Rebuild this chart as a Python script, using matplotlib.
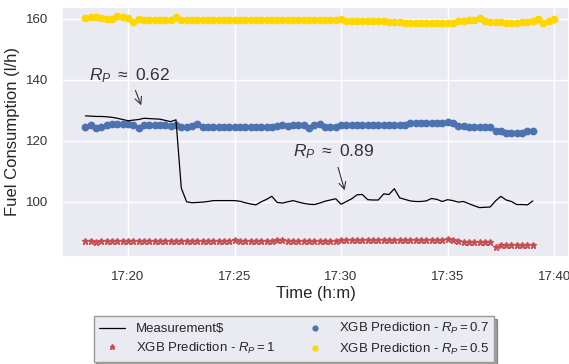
import numpy as np
import pandas as pd
import matplotlib
matplotlib.use("Agg")
import matplotlib.pyplot as plt
import matplotlib.dates as mdates
import seaborn as sns

# ---------------- data ----------------
start_time = "2021-01-01 17:18:00"
sample_period = "15s"

measurement = [
    128.2, 128.1, 128.0, 128.0, 127.9, 127.7, 127.4, 127.0, 126.6, 126.8,
    127.0, 127.4, 127.3, 127.2, 127.1, 126.7, 126.3, 126.9, 104.5, 100.0,
    99.7, 99.8, 99.9, 100.1, 100.4, 100.4, 100.4, 100.4, 100.4, 100.2,
    99.7, 99.3, 99.0, 100.0, 100.8, 101.8, 99.8, 99.6, 100.0, 100.4,
    99.9, 99.5, 99.2, 99.1, 99.6, 100.2, 100.6, 101.0, 99.2, 100.1,
    101.0, 102.3, 102.4, 100.7, 100.6, 100.6, 102.6, 102.4, 104.3, 101.3,
    100.8, 100.3, 100.1, 100.1, 100.3, 101.1, 100.8, 100.1, 100.7, 100.4,
    99.9, 100.1, 99.4, 98.7, 98.1, 98.2, 98.3, 100.3, 101.8, 100.6,
    100.1, 99.1, 99.1, 99.0, 100.3,
]

pred_rp_07 = [
    124.5, 125.2, 124.3, 124.6, 125.3, 125.4, 125.4, 125.4, 125.4, 125.3,
    124.3, 125.2, 125.3, 125.3, 125.3, 125.3, 124.8, 125.2, 124.6, 124.6,
    124.8, 125.4, 124.6, 124.5, 124.5, 124.5, 124.5, 124.5, 124.5, 124.4,
    124.5, 124.5, 124.5, 124.5, 124.5, 124.6, 125.0, 125.1, 125.0, 125.1,
    125.1, 125.2, 124.3, 125.3, 125.4, 124.6, 124.5, 124.7, 125.2, 125.2,
    125.2, 125.2, 125.2, 125.2, 125.2, 125.2, 125.2, 125.2, 125.2, 125.2,
    125.3, 125.7, 125.8, 125.8, 125.7, 125.8, 125.7, 125.9, 126.3, 126.0,
    125.0, 124.9, 124.5, 124.5, 124.5, 124.5, 124.6, 123.3, 123.3, 122.7,
    122.5, 122.5, 122.6, 123.2, 123.3,
]

pred_rp_1 = [
    87.0, 87.3, 86.9, 87.3, 87.3, 87.3, 87.3, 87.3, 87.3, 87.3,
    87.0, 87.3, 87.3, 87.3, 87.3, 87.3, 87.3, 87.0, 87.3, 87.3,
    87.0, 87.0, 87.0, 87.0, 87.0, 87.3, 87.3, 87.0, 87.4, 87.1,
    87.1, 87.1, 87.3, 87.0, 87.0, 87.0, 87.4, 87.4, 87.0, 87.3,
    87.3, 87.3, 87.3, 87.3, 87.3, 87.3, 87.0, 87.0, 87.4, 87.4,
    87.4, 87.4, 87.4, 87.4, 87.4, 87.4, 87.4, 87.4, 87.4, 87.5,
    87.4, 87.4, 87.4, 87.5, 87.4, 87.4, 87.4, 87.4, 87.7, 87.4,
    87.3, 86.8, 86.8, 86.8, 86.8, 86.8, 86.8, 85.3, 85.7, 85.7,
    85.7, 85.7, 85.7, 85.7, 85.7,
]

pred_rp_05 = [
    160.2, 160.5, 160.5, 160.3, 159.9, 160.0, 161.0, 160.5, 160.3, 159.1,
    159.9, 159.7, 159.7, 159.6, 159.8, 159.6, 159.7, 160.5, 159.8, 159.7,
    159.7, 159.7, 159.5, 159.5, 159.5, 159.5, 159.5, 159.5, 159.5, 159.5,
    159.5, 159.5, 159.5, 159.5, 159.5, 159.5, 159.5, 159.5, 159.5, 159.5,
    159.5, 159.5, 159.5, 159.5, 159.5, 159.5, 159.5, 159.5, 160.0, 159.4,
    159.4, 159.4, 159.4, 159.4, 159.4, 159.4, 159.3, 159.0, 159.0, 159.0,
    158.8, 158.5, 158.5, 158.5, 158.5, 158.5, 158.5, 158.5, 158.5, 158.5,
    159.3, 159.4, 159.5, 159.6, 160.2, 159.2, 159.1, 159.1, 158.9, 158.6,
    158.5, 158.7, 159.1, 159.1, 159.3, 159.9, 158.8, 159.4, 159.9,
]

labels = [
    "Measurement$",
    r"XGB Prediction - $R_P = 1$",
    r"XGB Prediction - $R_P = 0.7$",
    r"XGB Prediction - $R_P = 0.5$",
]
annot_texts = [r"$R_P\ \approx\ 0.62$", r"$R_P\ \approx\ 0.89$"]
annot_points = [("17:20:40", 130.8), ("17:30:12", 102.9)]
annot_text_pos = [("17:18:10", 140.0), ("17:27:45", 114.8)]
xlim = ("17:16:54", "17:40:42")

# ---------------- plotting ----------------
sns.set_theme(style="darkgrid")
plt.rcParams["font.family"] = ["Liberation Sans", "DejaVu Sans"]
plt.rcParams["mathtext.fontset"] = "custom"
plt.rcParams["mathtext.rm"] = "Liberation Sans"
plt.rcParams["mathtext.it"] = "Liberation Sans:italic"

t_main = pd.date_range(start_time, periods=len(measurement), freq=sample_period)
t_yel = pd.date_range(start_time, periods=len(pred_rp_05), freq=sample_period)
day = start_time.split(" ")[0]
def ts(s):
    return pd.Timestamp(f"{day} {s}")

fig = plt.figure(figsize=(5.69, 3.64), dpi=100)
ax = fig.add_axes([62 / 569, 107 / 364, 1 - 62 / 569, 250 / 364])

l0, = ax.plot(t_main, measurement, color="black", lw=0.9, label=labels[0], zorder=3)
l1, = ax.plot(t_main, pred_rp_1, ls="none", marker="*", ms=5, color="#C44E52", label=labels[1])
l2, = ax.plot(t_main, pred_rp_07, ls="none", marker="o", ms=4.6, color="#4C72B0", label=labels[2])
l3, = ax.plot(t_yel, pred_rp_05, ls="none", marker="o", ms=4.6, color="#FFD700", label=labels[3])

for txt, (px, py), (tx, ty) in zip(annot_texts, annot_points, annot_text_pos):
    ax.annotate(txt, xy=(ts(px), py), xytext=(ts(tx), ty), fontsize=12.5,
                color="#333333",
                arrowprops=dict(arrowstyle="->", color="#333333", lw=0.8))

ax.set_xlim(ts(xlim[0]), ts(xlim[1]))
ax.set_ylim(81.9, 163.9)
ax.set_yticks([100, 120, 140, 160])
ax.xaxis.set_major_locator(mdates.MinuteLocator(byminute=range(0, 60, 5)))
ax.xaxis.set_major_formatter(mdates.DateFormatter("%H:%M"))
ax.tick_params(labelsize=9.5, pad=4, labelcolor="#333333")
ax.set_xlabel("Time (h:m)", fontsize=12, labelpad=2)
ax.set_ylabel("Fuel Consumption (l/h)", fontsize=12, labelpad=4)

leg = fig.legend(handles=[l0, l1, l2, l3], labels=labels, ncol=2,
                 loc="upper center", bbox_to_anchor=(294 / 569, 1 - 316 / 364),
                 fontsize=9.5, frameon=True, shadow=True, fancybox=False,
                 markerscale=0.75, columnspacing=2.0, handlelength=2.0,
                 handletextpad=0.8, borderaxespad=0, labelspacing=0.4)
leg.get_frame().set_edgecolor("#999999")
leg.get_frame().set_facecolor("#EAEAF2")

fig.savefig("out.png", dpi=100)
